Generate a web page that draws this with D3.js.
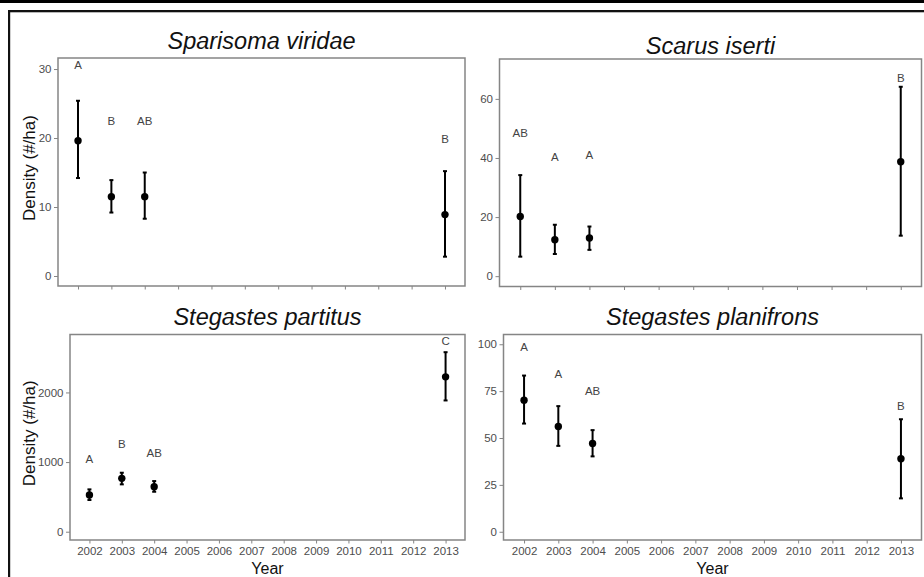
<!DOCTYPE html>
<html>
<head>
<meta charset="utf-8">
<script src="https://cdn.jsdelivr.net/npm/d3@7"></script>
<style>
  html, body { margin: 0; padding: 0; background: #fff; }
  svg { display: block; font-family: "Liberation Sans", Arial, sans-serif; }
</style>
</head>
<body>
<svg id="chart" width="924" height="577"></svg>
<script>
// ---------------- DATA ----------------
const years = [2002, 2003, 2004, 2013];
const yearTicks = [2002, 2003, 2004, 2005, 2006, 2007, 2008, 2009, 2010, 2011, 2012, 2013];

const titles = ["Sparisoma viridae", "Scarus iserti", "Stegastes partitus", "Stegastes planifrons"];

// Sparisoma viridae
const svMean  = [19.6, 11.5, 11.5, 8.9];
const svLow   = [14.2, 9.2, 8.3, 2.8];
const svHigh  = [25.4, 13.9, 15.0, 15.2];
const svLetters = ["A", "B", "AB", "B"];
const svLetterY = [30.6, 22.5, 22.5, 19.9];
const svTicks = [0, 10, 20, 30];

// Scarus iserti
const siMean  = [20.2, 12.3, 12.9, 38.7];
const siLow   = [6.6, 7.5, 8.9, 13.7];
const siHigh  = [34.2, 17.4, 16.8, 64.1];
const siLetters = ["AB", "A", "A", "B"];
const siLetterY = [48.4, 40.5, 41.0, 67.0];
const siTicks = [0, 20, 40, 60];

// Stegastes partitus
const spMean  = [527, 766, 646, 2224];
const spLow   = [455, 680, 574, 1885];
const spHigh  = [608, 847, 727, 2578];
const spLetters = ["A", "B", "AB", "C"];
const spLetterY = [1039, 1268, 1139, 2736];
const spTicks = [0, 1000, 2000];

// Stegastes planifrons
const plMean  = [70.2, 56.1, 47.1, 38.9];
const plLow   = [57.7, 45.8, 40.2, 17.8];
const plHigh  = [83.3, 67.0, 54.2, 60.0];
const plLetters = ["A", "A", "AB", "B"];
const plLetterY = [98.6, 84.4, 75.1, 67.1];
const plTicks = [0, 25, 50, 75, 100];

// ---------------- LAYOUT ----------------
const panels = [
  { title: titles[0], mean: svMean, low: svLow, high: svHigh, letters: svLetters, letterY: svLetterY, ticks: svTicks,
    yDomain: [-1.45, 31.6], rect: { x0: 58, x1: 465, y0: 58, y1: 286 }, titleY: 49, xLabels: false, yTitle: true },
  { title: titles[1], mean: siMean, low: siLow, high: siHigh, letters: siLetters, letterY: siLetterY, ticks: siTicks,
    yDomain: [-3.5, 73.5], rect: { x0: 499.5, x1: 921.5, y0: 59, y1: 286.5 }, titleY: 54, xLabels: false, yTitle: false },
  { title: titles[2], mean: spMean, low: spLow, high: spHigh, letters: spLetters, letterY: spLetterY, ticks: spTicks,
    yDomain: [-119, 2832], rect: { x0: 70, x1: 465, y0: 334.5, y1: 540 }, titleY: 325, xLabels: true, yTitle: true },
  { title: titles[3], mean: plMean, low: plLow, high: plHigh, letters: plLetters, letterY: plLetterY, ticks: plTicks,
    yDomain: [-4.4, 105.2], rect: { x0: 503.5, x1: 921.5, y0: 334.5, y1: 540 }, titleY: 325, xLabels: true, yTitle: false }
];

const svg = d3.select("#chart");

// outer frame lines (from the source image)
svg.append("rect").attr("x", 0).attr("y", 0).attr("width", 924).attr("height", 3).attr("fill", "#000");
svg.append("rect").attr("x", 8).attr("y", 10).attr("width", 916).attr("height", 2.3).attr("fill", "#111");
svg.append("rect").attr("x", 8).attr("y", 10).attr("width", 2.2).attr("height", 567).attr("fill", "#111");

const gridGray = "#858585";
const textGray = "#4d4d4d";

panels.forEach(p => {
  const r = p.rect;
  const x = d3.scaleLinear().domain([2001.4, 2013.6]).range([r.x0, r.x1]);
  const y = d3.scaleLinear().domain(p.yDomain).range([r.y1, r.y0]);
  const g = svg.append("g");

  // title
  g.append("text")
    .attr("x", (r.x0 + r.x1) / 2)
    .attr("y", p.titleY)
    .attr("text-anchor", "middle")
    .attr("font-size", 23.5)
    .attr("font-style", "italic")
    .attr("fill", "#111")
    .text(p.title);

  // y axis
  const yAxis = d3.axisLeft(y).tickValues(p.ticks).tickSize(4).tickPadding(2.5).tickFormat(d3.format("d"));
  const ya = g.append("g").attr("transform", `translate(${r.x0},0)`).call(yAxis);
  ya.select(".domain").remove();
  ya.selectAll(".tick line").attr("stroke", gridGray).attr("stroke-width", 1);
  ya.selectAll(".tick text").attr("fill", textGray).attr("font-size", 11.5)
    .attr("font-family", "'Liberation Sans', Arial, sans-serif");

  // x axis
  const xAxis = d3.axisBottom(x).tickValues(yearTicks).tickSize(3.5).tickPadding(3)
    .tickFormat(p.xLabels ? d3.format("d") : () => "");
  const xa = g.append("g").attr("transform", `translate(0,${r.y1})`).call(xAxis);
  xa.select(".domain").remove();
  xa.selectAll(".tick line").attr("stroke", gridGray).attr("stroke-width", 1);
  xa.selectAll(".tick text").attr("fill", textGray).attr("font-size", 11.5)
    .attr("font-family", "'Liberation Sans', Arial, sans-serif");

  // panel border
  g.append("rect")
    .attr("x", r.x0).attr("y", r.y0)
    .attr("width", r.x1 - r.x0).attr("height", r.y1 - r.y0)
    .attr("fill", "none").attr("stroke", gridGray).attr("stroke-width", 1.5);

  // axis titles
  if (p.yTitle) {
    g.append("text")
      .attr("transform", `translate(34.5,${(r.y0 + r.y1) / 2 - 4}) rotate(-90)`)
      .attr("text-anchor", "middle")
      .attr("font-size", 17)
      .attr("fill", "#111")
      .text("Density (#/ha)");
  }
  if (p.xLabels) {
    g.append("text")
      .attr("x", (r.x0 + r.x1) / 2)
      .attr("y", 574)
      .attr("text-anchor", "middle")
      .attr("font-size", 16)
      .attr("fill", "#111")
      .text("Year");
  }

  const rows = years.map((yr, i) => ({ yr, m: p.mean[i], lo: p.low[i], hi: p.high[i], lab: p.letters[i], ly: p.letterY[i] }));

  // error bars
  g.selectAll(".eb").data(rows).enter().append("line")
    .attr("x1", d => x(d.yr)).attr("x2", d => x(d.yr))
    .attr("y1", d => y(d.lo)).attr("y2", d => y(d.hi))
    .attr("stroke", "#000").attr("stroke-width", 2);
  ["lo", "hi"].forEach(k => {
    g.selectAll(".cap" + k).data(rows).enter().append("line")
      .attr("x1", d => x(d.yr) - 2).attr("x2", d => x(d.yr) + 2)
      .attr("y1", d => y(d[k])).attr("y2", d => y(d[k]))
      .attr("stroke", "#000").attr("stroke-width", 2);
  });

  // points
  g.selectAll(".pt").data(rows).enter().append("circle")
    .attr("cx", d => x(d.yr)).attr("cy", d => y(d.m)).attr("r", 3.7)
    .attr("fill", "#000");

  // letters
  g.selectAll(".lab").data(rows).enter().append("text")
    .attr("x", d => x(d.yr)).attr("y", d => y(d.ly))
    .attr("dy", "0.36em")
    .attr("text-anchor", "middle")
    .attr("font-size", 11.5)
    .attr("fill", "#444")
    .text(d => d.lab);
});
</script>
</body>
</html>
